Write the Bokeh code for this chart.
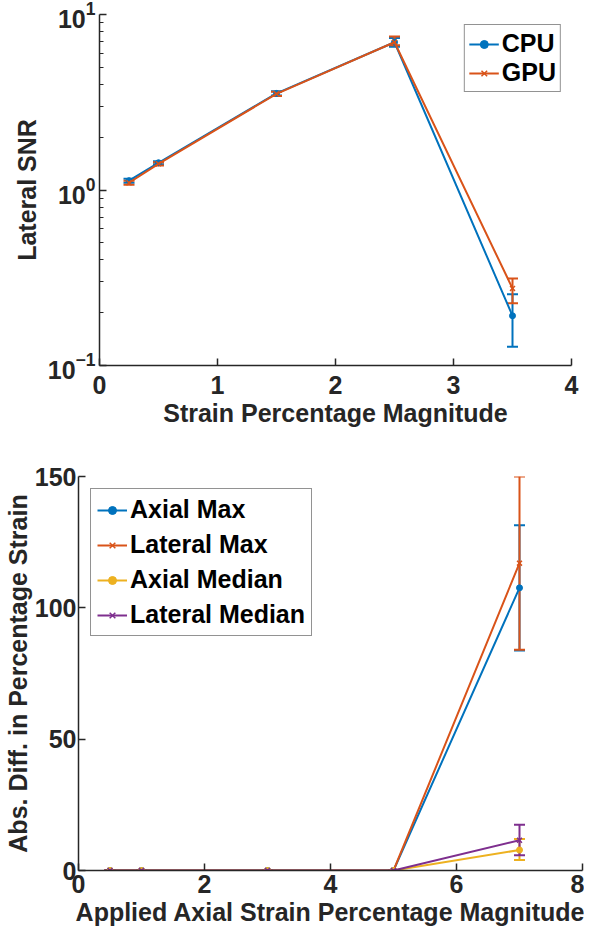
from bokeh.plotting import figure
from bokeh.models import Whisker, TeeHead, ColumnDataSource, FixedTicker, Legend, LegendItem, LogTickFormatter
from bokeh.layouts import column, row
from bokeh.embed import file_html
from bokeh.resources import INLINE

# ---- top chart data ----
strain = [0.25, 0.5, 1.5, 2.5, 3.5]
cpu_snr = [1.13, 1.43, 3.55, 6.95, 0.192]
cpu_lo = [1.10, 1.40, 3.45, 6.55, 0.128]
cpu_hi = [1.16, 1.46, 3.65, 7.35, 0.255]
gpu_snr = [1.10, 1.41, 3.53, 6.95, 0.275]
gpu_lo = [1.07, 1.38, 3.43, 6.67, 0.226]
gpu_hi = [1.13, 1.44, 3.63, 7.50, 0.313]
top_xticks = [0, 1, 2, 3, 4]
top_yticks = [0.1, 1, 10]
top_yminor = [0.2, 0.3, 0.4, 0.5, 0.6, 0.7, 0.8, 0.9, 2, 3, 4, 5, 6, 7, 8, 9]

# ---- bottom chart data ----
applied = [0.5, 1, 3, 5, 7]
axial_max = [0, 0, 0, 0, 107.6]
axial_max_lo = [0, 0, 0, 0, 83.8]
axial_max_hi = [0, 0, 0, 0, 131.4]
lateral_max = [0, 0, 0, 0, 117.0]
lateral_max_lo = [0, 0, 0, 0, 84.0]
lateral_max_hi = [0, 0, 0, 0, 150.0]
axial_med = [0, 0, 0, 0, 7.8]
axial_med_lo = [0, 0, 0, 0, 4.0]
axial_med_hi = [0, 0, 0, 0, 12.0]
lateral_med = [0, 0, 0, 0, 11.5]
lateral_med_lo = [0, 0, 0, 0, 5.8]
lateral_med_hi = [0, 0, 0, 0, 17.4]
bot_xticks = [0, 2, 4, 6, 8]
bot_yticks = [0, 50, 100, 150]

BLUE = "#0072BD"
ORANGE = "#D95319"
YELLOW = "#EDB120"
PURPLE = "#7E2F8E"
TXT = "#262626"
FONT = "Liberation Sans"
FS = "25px"


def style_axes(p):
    p.outline_line_color = None
    p.xgrid.visible = False
    p.ygrid.visible = False
    p.background_fill_color = "white"
    for ax in (p.xaxis[0], p.yaxis[0]):
        ax.axis_line_color = TXT
        ax.axis_line_width = 1.5
        ax.major_tick_line_color = TXT
        ax.major_tick_line_width = 1.5
        ax.minor_tick_line_color = TXT
        ax.major_tick_in = 7
        ax.major_tick_out = 0
        ax.minor_tick_in = 0
        ax.minor_tick_out = 0
        ax.major_label_text_font = FONT
        ax.major_label_text_font_style = "bold"
        ax.major_label_text_font_size = FS
        ax.major_label_text_color = TXT
        ax.axis_label_text_font = FONT
        ax.axis_label_text_font_style = "bold"
        ax.axis_label_text_font_size = FS
        ax.axis_label_text_color = TXT
        ax.major_label_standoff = 6
        ax.axis_label_standoff = 6


def add_series(p, x, y, lo, hi, color, marker):
    src = ColumnDataSource(dict(x=x, y=y, lo=lo, hi=hi))
    r = p.line("x", "y", source=src, line_color=color, line_width=2)
    if marker == "dot":
        m = p.scatter("x", "y", source=src, marker="circle", size=6,
                      fill_color=color, line_color=color)
    else:
        m = p.scatter("x", "y", source=src, marker="x", size=7,
                      line_color=color, line_width=1.5)
    w = Whisker(base="x", upper="hi", lower="lo", source=src,
                line_color=color, line_width=2,
                upper_head=TeeHead(size=11, line_color=color, line_width=2),
                lower_head=TeeHead(size=11, line_color=color, line_width=2))
    p.add_layout(w)
    return [r, m]


# ---- top figure ----
p1 = figure(width=584, height=438, y_axis_type="log",
            x_range=(0, 4), y_range=(0.1, 10),
            output_backend="svg", toolbar_location=None,
            min_border_left=99, min_border_right=13,
            min_border_top=14, min_border_bottom=73)
style_axes(p1)
p1.yaxis[0].minor_tick_in = 4
p1.yaxis[0].ticker = FixedTicker(ticks=top_yticks, minor_ticks=top_yminor)
p1.yaxis[0].formatter = LogTickFormatter()
p1.xaxis[0].ticker = FixedTicker(ticks=top_xticks)
p1.xaxis.axis_label = "Strain Percentage Magnitude"
p1.yaxis.axis_label = "Lateral SNR"
p1.xaxis[0].major_label_standoff = 10
p1.xaxis[0].axis_label_standoff = 2
p1.yaxis[0].major_label_standoff = 4
p1.yaxis[0].axis_label_standoff = 4

r_cpu = add_series(p1, strain, cpu_snr, cpu_lo, cpu_hi, BLUE, "dot")
r_gpu = add_series(p1, strain, gpu_snr, gpu_lo, gpu_hi, ORANGE, "x")

leg1 = Legend(items=[LegendItem(label="CPU", renderers=r_cpu),
                     LegendItem(label="GPU", renderers=r_gpu)],
              location="top_right")
leg1.label_text_font = FONT
leg1.label_text_font_style = "bold"
leg1.label_text_font_size = FS
leg1.label_text_color = "black"
leg1.border_line_color = TXT
leg1.border_line_width = 1.5
leg1.glyph_width = 30
leg1.spacing = 0
leg1.padding = 4
leg1.margin = 10
leg1.label_standoff = 3
p1.add_layout(leg1)

# ---- bottom figure ----
p2 = figure(width=584, height=490,
            x_range=(0, 8), y_range=(0, 150),
            output_backend="svg", toolbar_location=None,
            min_border_left=62, min_border_right=2,
            min_border_top=38, min_border_bottom=44)
style_axes(p2)
p2.xaxis[0].ticker = FixedTicker(ticks=bot_xticks)
p2.yaxis[0].ticker = FixedTicker(ticks=bot_yticks)
p2.xaxis.axis_label = "Applied Axial Strain Percentage Magnitude"
p2.yaxis.axis_label = "Abs. Diff. in Percentage Strain"
p2.xaxis[0].major_label_standoff = 4
p2.xaxis[0].axis_label_standoff = 2
p2.yaxis[0].major_label_standoff = 2
p2.yaxis[0].axis_label_standoff = 0

r_am = add_series(p2, applied, axial_max, axial_max_lo, axial_max_hi, BLUE, "dot")
r_lm = add_series(p2, applied, lateral_max, lateral_max_lo, lateral_max_hi, ORANGE, "x")
r_amed = add_series(p2, applied, axial_med, axial_med_lo, axial_med_hi, YELLOW, "dot")
r_lmed = add_series(p2, applied, lateral_med, lateral_med_lo, lateral_med_hi, PURPLE, "x")

leg2 = Legend(items=[LegendItem(label="Axial Max", renderers=r_am),
                     LegendItem(label="Lateral Max", renderers=r_lm),
                     LegendItem(label="Axial Median", renderers=r_amed),
                     LegendItem(label="Lateral Median", renderers=r_lmed)],
              location="top_left")
leg2.label_text_font = FONT
leg2.label_text_font_style = "bold"
leg2.label_text_font_size = FS
leg2.label_text_color = "black"
leg2.border_line_color = TXT
leg2.border_line_width = 1.5
leg2.glyph_width = 30
leg2.spacing = 6
leg2.padding = 6
leg2.margin = 12
leg2.label_standoff = 3
p2.add_layout(leg2)

layout = column(row(p1), row(p2), spacing=0)
open("out.html", "w").write(file_html(layout, INLINE))
